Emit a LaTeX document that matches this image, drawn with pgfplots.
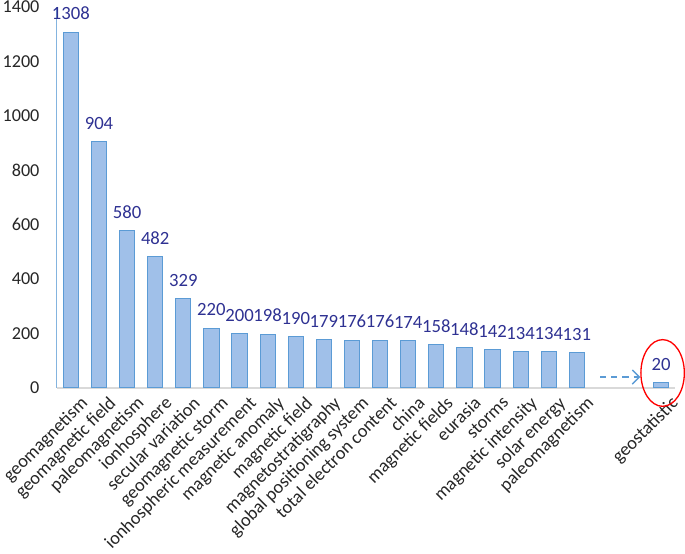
\documentclass[border=0pt]{standalone}
\usepackage{pgfplots}
\pgfplotsset{compat=1.18}
\usepackage{fontspec}
\setmainfont{Carlito}
\usetikzlibrary{arrows.meta}
\definecolor{barfill}{RGB}{160,192,233}
\definecolor{baredge}{RGB}{91,155,213}
\definecolor{vallab}{RGB}{46,49,146}
\definecolor{baseln}{RGB}{217,217,217}
\begin{document}
\begin{tikzpicture}
\begin{axis}[
  scale only axis, width=612pt, height=377pt,
  xmin=-0.5, xmax=21.5, ymin=0, ymax=1400,
  ybar, bar width=15pt,
  clip=false,
  axis x line*=bottom, axis y line*=left,
  x axis line style={draw=baseln, line width=1.2pt, -},
  y axis line style={draw=baredge!75, line width=0.9pt, -},
  tick style={draw=none},
  ytick={0,200,...,1400},
  /pgf/number format/assume math mode=true,
  /pgf/number format/1000 sep={},
  yticklabel style={font=\fontsize{18}{20}\selectfont, text=black!85, inner sep=1pt, xshift=-16pt},
  xtick={0,1,2,3,4,5,6,7,8,9,10,11,12,13,14,15,16,17,18,21},
  xticklabels={geomagnetism,geomagnetic field,paleomagnetism,ionhosphere,secular variation,geomagnetic storm,ionhospheric measurement,magnetic anomaly,magnetic field,magnetostratigraphy,global positioning system,total electron content,china,magnetic fields,eurasia,storms,magnetic intensity,solar energy,paleomagnetism,geostatistic},
  xticklabel style={font=\fontsize{18.2}{21}\selectfont, text=black!85, rotate=45, anchor=north east, inner sep=1pt, yshift=-7pt, xshift=5pt},
  nodes near coords,
  every node near coord/.append style={font=\fontsize{18.5}{21}\selectfont, text=vallab, yshift=8pt},
]
\addplot[draw=baredge, line width=1pt, fill=barfill] coordinates {
(0,1308) (1,904) (2,580) (3,482) (4,329) (5,220) (6,200) (7,198) (8,190) (9,179)
(10,176) (11,176) (12,174) (13,158) (14,148) (15,142) (16,134) (17,134) (18,131) (21,20)
};
\draw[baredge, line width=1.4pt, dash pattern=on 6pt off 5pt, -{Straight Barb[length=7pt,width=14pt,line width=1.4pt]}] (axis cs:18.83,40) -- (axis cs:20.26,40);
\draw[red, line width=1.3pt] (axis cs:21.05,55) ellipse [x radius=21.5pt, y radius=33pt];
\end{axis}
\end{tikzpicture}
\end{document}
